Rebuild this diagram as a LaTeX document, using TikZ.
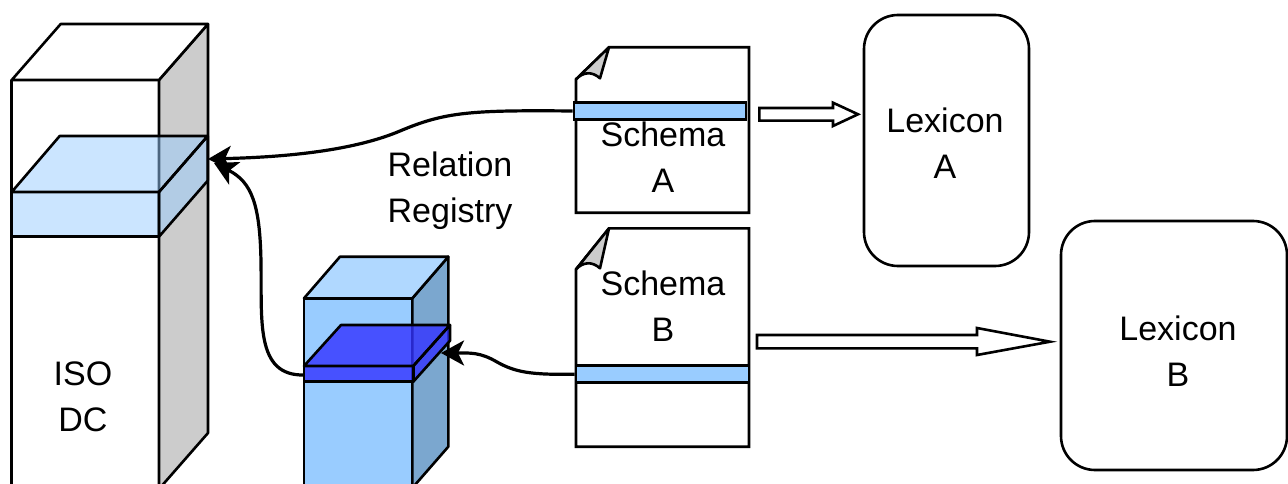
\documentclass[tikz,border=0pt]{standalone}
\usepackage{fontspec}
\setmainfont{Liberation Sans}
\usetikzlibrary{arrows.meta,calc}
\definecolor{lb}{HTML}{99CCFF}
\definecolor{lbtop}{HTML}{B0D8FF}
\definecolor{lbside}{HTML}{7BA7CF}
\definecolor{sidegray}{HTML}{CCCCCC}
\definecolor{dblue}{HTML}{3333FF}
\definecolor{flapgray}{HTML}{CCCCCC}
\tikzset{
  edge/.style={draw=black, line width=2.6pt, line join=round},
  txt/.style={font=\fontsize{34}{46}\selectfont, align=center, inner sep=0pt},
  conn/.style={line width=3.2pt, -{Stealth[length=23pt,width=25pt,inset=6pt]}},
  band/.style={draw=black, line width=2.6pt, fill=lb, inner sep=0pt},
  lex/.style={draw=black, line width=2.6pt, rounded corners=34pt, inner sep=0pt},
  hollow/.style={draw=black, line width=2.6pt, fill=white, line join=miter},
  glass/.style={fill=lb, fill opacity=0.5},
  deepglass/.style={fill=dblue, fill opacity=0.8},
  doc/.style={draw=black, line width=2.6pt, fill=white, line join=miter},
  flap/.style={draw=black, line width=2.6pt, fill=flapgray, line join=round},
}
\begin{document}
\begin{tikzpicture}[x=1pt,y=-1pt]
\useasboundingbox (0,0) rectangle (1288,484);
\clip (0,0) rectangle (1288,484);

% ---------- ISO DC column ----------
\draw[edge, fill=white] (11.7,80) rectangle (159,500);
\draw[edge, fill=sidegray] (159,80) -- (208,24) -- (208,433) -- (159,489) -- cycle;
\draw[edge, fill=white] (11.7,80) -- (60.7,24) -- (208,24) -- (159,80) -- cycle;

% ISO DC layer (translucent)
\path[glass] (11.7,192) -- (59.7,136) -- (207.7,136) -- (159,192) -- cycle;
\path[glass] (159,192) -- (207.7,136) -- (207.7,180.7) -- (159,236.7) -- cycle;
\path[glass] (11.7,192) rectangle (159,236.7);
\draw[edge] (11.7,192) -- (59.7,136) -- (207.7,136) -- (159,192) -- cycle;
\draw[edge] (159,192) -- (207.7,136) -- (207.7,180.7) -- (159,236.7) -- cycle;
\draw[edge] (11.7,192) rectangle (159,236.7);

\node[txt] (iso) at (83,397) {ISO\\DC};

% ---------- small repository column ----------
\draw[edge, fill=lb] (304,298.3) rectangle (412.3,500);
\draw[edge, fill=lbside] (412.3,298.3) -- (448.3,256.7) -- (448.3,446.7) -- (412.3,488) -- cycle;
\draw[edge, fill=lbtop] (304,298.3) -- (340,256.7) -- (448.3,256.7) -- (412.3,298.3) -- cycle;

% small layer
\path[deepglass] (304,366) -- (341,325) -- (450,325) -- (413.3,366) -- cycle;
\path[deepglass] (413.3,366) -- (450,325) -- (450,340.7) -- (413.3,381.7) -- cycle;
\path[deepglass] (304,366) rectangle (413.3,381.7);
\draw[edge] (304,366) -- (341,325) -- (450,325) -- (413.3,366) -- cycle;
\draw[edge] (413.3,366) -- (450,325) -- (450,340.7) -- (413.3,381.7) -- cycle;
\draw[edge] (304,366) rectangle (413.3,381.7);

% ---------- Schema documents ----------
\draw[doc] (576,79.3) -- (609,47.3) -- (749,47.3) -- (749,212.7) -- (576,212.7) -- cycle;
\draw[flap] (609,47.3) -- (600,78.3) .. controls (592,71) and (583,72) .. (576,79.3) -- cycle;
\node[band, minimum width=172pt, minimum height=16.6pt] (bandA) at (660,111) {};
\node[txt] (schA) at (663,157) {Schema\\A};

\draw[doc] (576,269.3) -- (609,228.3) -- (749,228.3) -- (749,446.7) -- (576,446.7) -- cycle;
\draw[flap] (609,228.3) -- (600,268.3) .. controls (592,261) and (583,262) .. (576,269.3) -- cycle;
\node[band, minimum width=173pt, minimum height=17pt] (bandB) at (662.5,374.2) {};
\node[txt] (schB) at (663,306) {Schema\\B};

% ---------- Lexicons ----------
\node[lex, minimum width=165pt, minimum height=251pt] (lexA) at (946.5,140.5) {};
\node[txt] (lexAt) at (945,143) {Lexicon\\A};
\node[lex, minimum width=226pt, minimum height=249pt] (lexB) at (1174,345.5) {};
\node[txt] (lexBt) at (1178,351) {Lexicon\\B};

% hollow block arrows
\draw[hollow] (759.3,108) -- (833,108) -- (833,102.7) -- (858,114.3) -- (833,126) -- (833,120.7) -- (759.3,120.7) -- cycle;
\draw[hollow] (757,335) -- (977,335) -- (977,328) -- (1050,341.7) -- (977,355) -- (977,348.3) -- (757,348.3) -- cycle;

% ---------- Relation registry ----------
\node[txt] (rel) at (450,191) {Relation\\Registry};

\coordinate (isoIn) at (208,159);
\coordinate (isoIn2) at (214,163);
\coordinate (smallOut) at (304,375);
\coordinate (smallIn) at (441,353);

\draw[conn] (bandA.west) .. controls (470,110) and (445,112) .. (400,131)
            .. controls (355,150) and (290,157) .. (isoIn);
\draw[conn] (smallOut) .. controls (255,376) and (262,320) .. (261,262)
            .. controls (260,205) and (252,182) .. (isoIn2);
\draw[conn] (bandB.west) .. controls (530,375) and (515,372) .. (497,362)
            .. controls (480,352) and (470,353) .. (smallIn);
\end{tikzpicture}
\end{document}
